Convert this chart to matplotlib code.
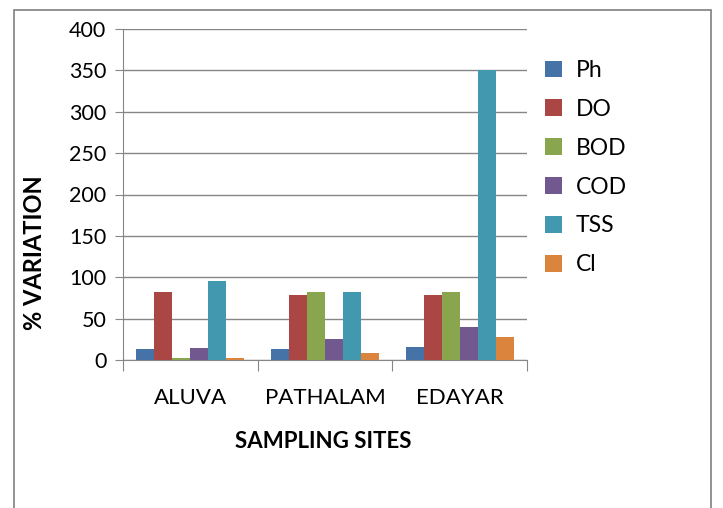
import matplotlib.pyplot as plt
import numpy as np
from matplotlib.patches import Rectangle

sites = ["ALUVA", "PATHALAM", "EDAYAR"]
params = ["Ph", "DO", "BOD", "COD", "TSS", "Cl"]
ph = [13, 13, 16]
do = [82, 78, 78]
bod = [2, 82, 82]
cod = [15, 25, 40]
tss = [96, 82, 350]
cl = [3, 8, 28]
colors = ["#4572A7", "#AA4643", "#89A54E", "#71588F", "#4198AF", "#DB843D"]

plt.rcParams["font.family"] = ["Lato", "DejaVu Sans"]

fig = plt.figure(figsize=(7.23, 5.08), dpi=100)
fig.patches.append(Rectangle((14 / 723, -0.05), 697 / 723, 1.05 - 10 / 508,
                             transform=fig.transFigure, fill=False,
                             edgecolor="#7f7f7f", linewidth=1.2))

ax = fig.add_axes([123 / 723, 148 / 508, 404 / 723, 331 / 508])

series = [ph, do, bod, cod, tss, cl]
x = np.arange(len(sites))
w = 0.8 / len(series)
for i, (name, vals) in enumerate(zip(params, series)):
    ax.bar(x - 0.4 + w * (i + 0.5), vals, w, color=colors[i], label=name, zorder=3)

ax.set_xlim(-0.5, 2.5)
ax.set_ylim(0, 400)
ax.set_yticks(range(0, 401, 50))
ax.yaxis.grid(True, color="#868686", linewidth=1, zorder=0)
ax.set_xticks([-0.5, 0.5, 1.5, 2.5])
ax.set_xticklabels([])
ax.set_xticks(x, minor=True)
ax.set_xticklabels(sites, minor=True)
ax.tick_params(axis="x", which="major", length=8, color="#868686")
ax.tick_params(axis="x", which="minor", length=0, pad=20, labelsize=16)
ax.tick_params(axis="y", length=6, color="#868686", labelsize=15.5, pad=6)
for s in ["top", "right"]:
    ax.spines[s].set_visible(False)
for s in ["left", "bottom"]:
    ax.spines[s].set_color("#868686")

fig.text(35 / 723, 1 - 253 / 508, "% VARIATION", rotation=90, fontsize=17,
         fontweight="bold", ha="center", va="center")
fig.text(323 / 723, 1 - 442 / 508, "SAMPLING SITES", fontsize=16,
         fontweight="bold", ha="center", va="center")

ax.legend(loc="upper left", bbox_to_anchor=(545 / 723, 1 - 60 / 508),
          bbox_transform=fig.transFigure, frameon=False, borderpad=0,
          borderaxespad=0, fontsize=16.5, handlelength=0.75, handleheight=0.75,
          labelspacing=0.78, handletextpad=0.6)

fig.savefig("out.png", dpi=100)
